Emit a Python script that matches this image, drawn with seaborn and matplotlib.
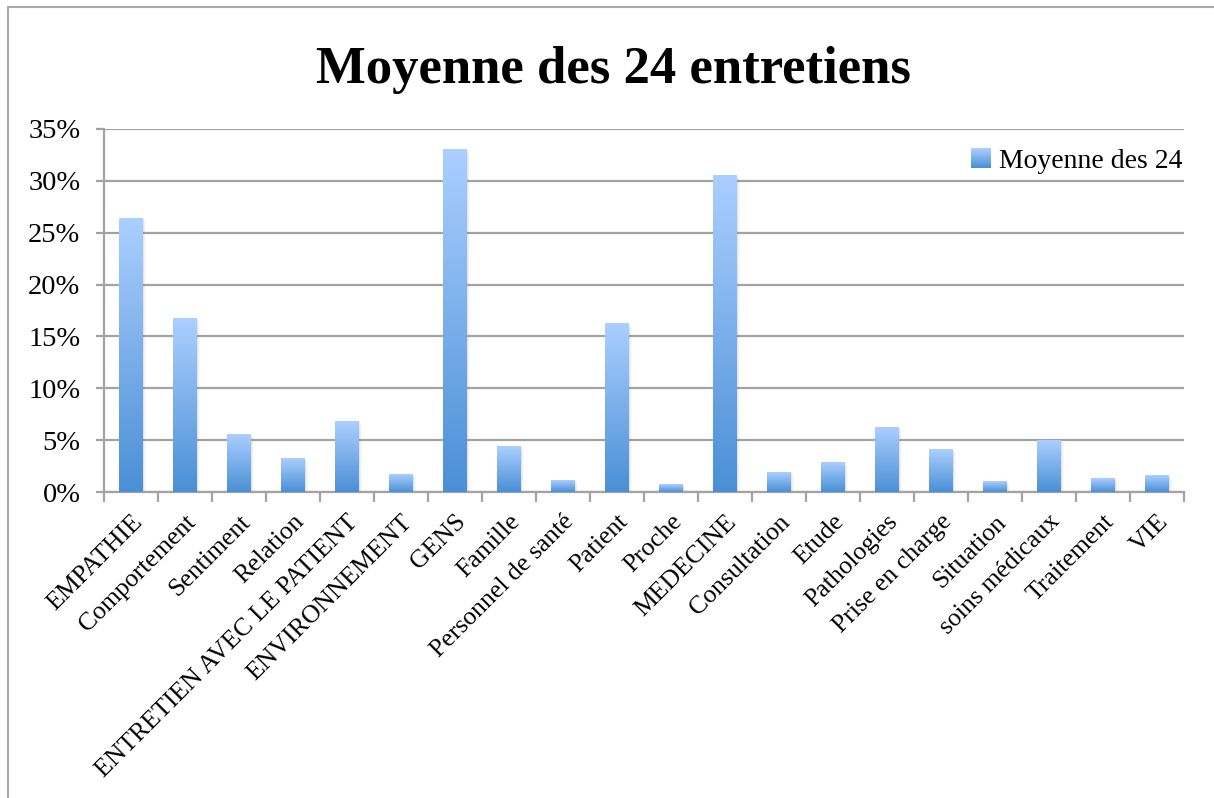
import numpy as np
import pandas as pd
import seaborn as sns
import matplotlib.pyplot as plt
from matplotlib.patches import Rectangle
from matplotlib.legend_handler import HandlerBase
from matplotlib.colors import LinearSegmentedColormap
from matplotlib.ticker import PercentFormatter

categories = ['EMPATHIE', 'Comportement', 'Sentiment', 'Relation',
              'ENTRETIEN AVEC LE PATIENT', 'ENVIRONNEMENT', 'GENS', 'Famille',
              'Personnel de santé', 'Patient', 'Proche', 'MEDECINE',
              'Consultation', 'Etude', 'Pathologies', 'Prise en charge',
              'Situation', 'soins médicaux', 'Traitement', 'VIE']
values = [0.264, 0.167, 0.055, 0.032, 0.068, 0.017, 0.330, 0.044, 0.011,
          0.162, 0.007, 0.305, 0.019, 0.028, 0.062, 0.041, 0.010, 0.050,
          0.013, 0.016]
series_name = 'Moyenne des 24'
title = 'Moyenne des 24 entretiens'

top_col = '#abcfff'
bottom_col = '#4a8fd6'
grid_col = '#a3a3a3'
cmap = LinearSegmentedColormap.from_list('bar', [bottom_col, top_col])

sns.set_style('white')
plt.rcParams['font.family'] = ['Liberation Serif', 'DejaVu Serif']
plt.rcParams['text.color'] = 'black'
plt.rcParams['xtick.labelcolor'] = 'black'
plt.rcParams['ytick.labelcolor'] = 'black'

df = pd.DataFrame({'cat': categories, 'val': values})

fig = plt.figure(figsize=(12.14, 7.98), dpi=100)
ax = fig.add_axes([104 / 1214, 1 - 492 / 798, 1080 / 1214, 363 / 798])

sns.barplot(data=df, x='cat', y='val', ax=ax, width=0.43, color=bottom_col,
            saturation=1, zorder=3)

# gradient fill + soft shadow for each bar
grad = np.linspace(1, 0, 256).reshape(-1, 1)
for p in ax.patches:
    x, w, h = p.get_x(), p.get_width(), p.get_height()
    p.set_facecolor('none')
    p.set_edgecolor('none')
    for k, a in enumerate([0.10, 0.07, 0.04]):
        ax.add_patch(Rectangle((x + 0.02 + 0.02 * k, 0), w, h - 0.0015 * k,
                               facecolor='#808080', alpha=a, lw=0, zorder=2))
    ax.imshow(grad, extent=[x, x + w, 0, h], aspect='auto', cmap=cmap,
              zorder=3, interpolation='bicubic')

ax.set_xlim(-0.5, len(categories) - 0.5)
ax.set_ylim(0, 0.35)
ax.set_yticks(np.arange(0, 0.36, 0.05))
ax.yaxis.set_major_formatter(PercentFormatter(1.0, decimals=0))
ax.yaxis.grid(True, color=grid_col, lw=1.6, zorder=0)
ax.set_axisbelow(True)
ax.set_xlabel('')
ax.set_ylabel('')

for s in ['top', 'right']:
    ax.spines[s].set_visible(False)
for s in ['left', 'bottom']:
    ax.spines[s].set_color(grid_col)
    ax.spines[s].set_linewidth(1.6)

ax.tick_params(axis='y', left=True, length=6, width=1.6, color=grid_col,
               labelsize=20.5, pad=11)
ax.set_xticks(range(len(categories)))
ax.set_xticklabels(categories, rotation=45, ha='right', rotation_mode='anchor',
                   fontsize=18.5)
ax.tick_params(axis='x', which='major', bottom=False, pad=10)
ax.set_xticks(np.arange(-0.5, len(categories), 1), minor=True)
ax.tick_params(axis='x', which='minor', bottom=True, length=7, width=1.6,
               color=grid_col)


class GradientHandler(HandlerBase):
    def create_artists(self, legend, orig_handle, xdescent, ydescent,
                       width, height, fontsize, trans):
        n = 20
        side = height * 1.0
        x0 = xdescent + width - side
        y0 = -ydescent + (height - side) / 2
        arts = []
        for i in range(n):
            c = cmap(i / (n - 1))
            arts.append(Rectangle((x0, y0 + side * i / n), side, side / n + 0.2,
                                  facecolor=c, lw=0, transform=trans))
        return arts


handle = Rectangle((0, 0), 1, 1)
ax.legend([handle], [series_name], handler_map={Rectangle: GradientHandler()},
          loc='upper right', bbox_to_anchor=(1.009, 0.978), frameon=False,
          fontsize=20, handlelength=0.7, handletextpad=0.3, borderaxespad=0)

fig.text(0.505, 1 - 83 / 798, title, ha='center', va='baseline',
         fontsize=38, fontweight='bold')

# outer chart frame (top and left edges visible)
fig.add_artist(plt.Line2D([8 / 1214, 1.0], [1 - 7 / 798, 1 - 7 / 798],
                          transform=fig.transFigure, color='#a8a8a8', lw=1.5))
fig.add_artist(plt.Line2D([8 / 1214, 8 / 1214], [0, 1 - 7 / 798],
                          transform=fig.transFigure, color='#a8a8a8', lw=1.5))

fig.savefig('out.png', dpi=100)
